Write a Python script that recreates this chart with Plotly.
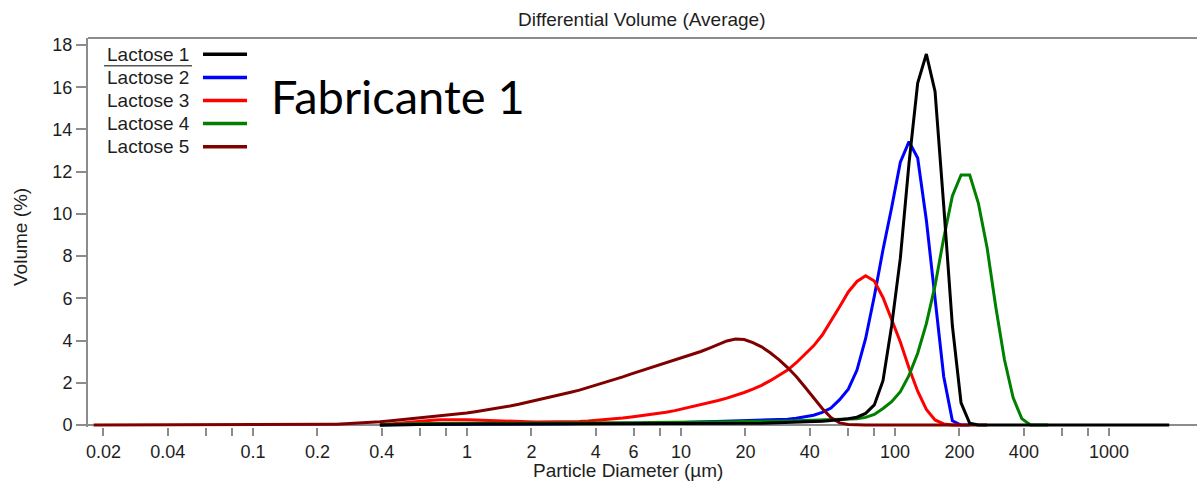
import plotly.graph_objects as go

# Channel mid-point diameters of the size analyser (µm), channel 0 .. 124
diameter_um = [
    0.01801, 0.01977, 0.02170, 0.02383, 0.02616, 0.02872, 0.03153, 0.03461, 0.03800, 0.04171,
    0.04579, 0.05027, 0.05519, 0.06059, 0.06652, 0.07303, 0.08017, 0.08801, 0.09662, 0.1061,
    0.1164, 0.1278, 0.1403, 0.1541, 0.1691, 0.1857, 0.2039, 0.2238, 0.2457, 0.2697,
    0.2961, 0.3250, 0.3568, 0.3917, 0.4301, 0.4721, 0.5183, 0.5690, 0.6247, 0.6858,
    0.7528, 0.8265, 0.9073, 0.9961, 1.0935, 1.2005, 1.3179, 1.4468, 1.5884, 1.7437,
    1.9143, 2.1016, 2.3071, 2.5328, 2.7806, 3.0526, 3.3512, 3.6790, 4.0389, 4.4340,
    4.8677, 5.3433, 5.8660, 6.4398, 7.0698, 7.7613, 8.5205, 9.3540, 10.269, 11.273,
    12.376, 13.587, 14.916, 16.375, 17.977, 19.735, 21.666, 23.785, 26.112, 28.666,
    31.470, 34.548, 37.928, 41.638, 45.711, 50.182, 55.091, 60.480, 66.396, 72.891,
    80.021, 87.849, 96.442, 105.88, 116.23, 127.60, 140.08, 153.79, 168.83, 185.34,
    203.47, 223.38, 245.23, 269.22, 295.55, 324.46, 356.20, 391.04, 429.29, 471.29,
    517.39, 568.0, 623.6, 684.6, 751.5, 825.0, 905.7, 994.3, 1091.6, 1198.4,
    1315.6, 1444.3, 1585.6, 1740.7, 1911.0,
]

# Differential volume (%) per channel; each list starts at its first reported channel
lactose_1_start = 33
lactose_1 = [
    0.0, 0.01, 0.02, 0.03, 0.03, 0.04, 0.04,
    0.04, 0.04, 0.05, 0.05, 0.05, 0.05, 0.05, 0.05, 0.05, 0.05,
    0.05, 0.05, 0.05, 0.05, 0.05, 0.05, 0.05, 0.05, 0.05, 0.05,
    0.05, 0.05, 0.05, 0.05, 0.05, 0.06, 0.06, 0.06, 0.06, 0.06,
    0.06, 0.06, 0.07, 0.07, 0.07, 0.08, 0.08, 0.08, 0.09, 0.10,
    0.11, 0.12, 0.14, 0.16, 0.18, 0.21, 0.25, 0.30, 0.37, 0.55,
    0.95, 2.1, 4.7, 7.9, 12.4, 16.2, 17.57, 15.8, 10.4, 4.7,
    1.05, 0.08, 0.0, 0.0, 0.0, 0.0, 0.0, 0.0, 0.0, 0.0,
    0.0, 0.0, 0.0, 0.0, 0.0, 0.0, 0.0, 0.0, 0.0, 0.0,
    0.0, 0.0, 0.0, 0.0, 0.0,
]

lactose_2_start = 33
lactose_2 = [
    0.0, 0.01, 0.02, 0.02, 0.02, 0.03, 0.03,
    0.03, 0.03, 0.03, 0.04, 0.04, 0.04, 0.04, 0.04, 0.05, 0.05,
    0.05, 0.05, 0.05, 0.06, 0.06, 0.06, 0.07, 0.07, 0.07, 0.08,
    0.08, 0.08, 0.09, 0.09, 0.10, 0.10, 0.10, 0.11, 0.12, 0.14,
    0.16, 0.18, 0.19, 0.20, 0.20, 0.20, 0.21, 0.22, 0.23, 0.25,
    0.27, 0.32, 0.38, 0.46, 0.60, 0.80, 1.2, 1.7, 2.6, 4.1,
    6.1, 8.3, 10.3, 12.45, 13.42, 12.65, 9.7, 6.1, 2.3, 0.2,
    0.0, 0.0,
]

lactose_3_start = 33
lactose_3 = [
    0.0, 0.04, 0.08, 0.13, 0.17, 0.20, 0.23,
    0.25, 0.26, 0.26, 0.25, 0.24, 0.22, 0.20, 0.18, 0.17, 0.16,
    0.15, 0.14, 0.14, 0.14, 0.14, 0.15, 0.17, 0.19, 0.22, 0.25,
    0.29, 0.33, 0.38, 0.43, 0.48, 0.54, 0.60, 0.68, 0.77, 0.86,
    0.96, 1.06, 1.16, 1.27, 1.40, 1.54, 1.70, 1.88, 2.10, 2.33,
    2.60, 2.95, 3.33, 3.75, 4.26, 4.90, 5.60, 6.30, 6.80, 7.07,
    6.82, 6.04, 5.00, 3.93, 2.70, 1.60, 0.74, 0.24, 0.05, 0.0,
    0.0,
]

lactose_4_start = 33
lactose_4 = [
    0.0, 0.02, 0.04, 0.05, 0.06, 0.07, 0.07,
    0.08, 0.08, 0.08, 0.08, 0.08, 0.08, 0.08, 0.08, 0.08, 0.08,
    0.09, 0.09, 0.09, 0.09, 0.09, 0.10, 0.10, 0.10, 0.10, 0.10,
    0.11, 0.11, 0.11, 0.11, 0.12, 0.12, 0.12, 0.12, 0.13, 0.13,
    0.13, 0.14, 0.14, 0.15, 0.15, 0.16, 0.16, 0.17, 0.17, 0.18,
    0.19, 0.20, 0.21, 0.22, 0.23, 0.24, 0.25, 0.27, 0.30, 0.36,
    0.50, 0.78, 1.10, 1.58, 2.35, 3.40, 4.80, 6.60, 8.85, 10.85,
    11.84, 11.84, 10.5, 8.4, 5.6, 3.1, 1.3, 0.3, 0.0, 0.0,
    0.0,
]

lactose_5_start = 0
lactose_5 = [
    0.0, 0.0, 0.0, 0.0, 0.0, 0.0, 0.0, 0.0, 0.0, 0.0,
    0.0, 0.0, 0.0, 0.0, 0.0, 0.0, 0.0, 0.0, 0.0, 0.0,
    0.0, 0.0, 0.0, 0.005, 0.01, 0.015, 0.02, 0.03, 0.04, 0.055,
    0.07, 0.09, 0.12, 0.15, 0.19, 0.23, 0.27, 0.30, 0.34, 0.38,
    0.42, 0.47, 0.52, 0.57, 0.63, 0.69, 0.75, 0.82, 0.90, 0.98,
    1.07, 1.16, 1.26, 1.35, 1.45, 1.55, 1.65, 1.77, 1.90, 2.02,
    2.15, 2.28, 2.42, 2.55, 2.68, 2.82, 2.95, 3.08, 3.22, 3.35,
    3.48, 3.64, 3.80, 3.98, 4.07, 4.05, 3.90, 3.70, 3.42, 3.10,
    2.72, 2.30, 1.80, 1.30, 0.78, 0.35, 0.10, 0.02, 0.0, 0.0,
    0.0, 0.0, 0.0, 0.0, 0.0, 0.0, 0.0, 0.0, 0.0, 0.0,
    0.0, 0.0, 0.0, 0.0,
]

series_names = ["Lactose 1", "Lactose 2", "Lactose 3", "Lactose 4", "Lactose 5"]
series_colors = ["#000000", "#0000FF", "#FF0000", "#008000", "#800000"]
series_values = [lactose_1, lactose_2, lactose_3, lactose_4, lactose_5]
series_starts = [lactose_1_start, lactose_2_start, lactose_3_start, lactose_4_start, lactose_5_start]

x_tick_vals = [0.02, 0.04, 0.06, 0.08, 0.1, 0.2, 0.4, 0.6, 0.8, 1, 2, 4, 6, 8,
               10, 20, 40, 60, 80, 100, 200, 400, 600, 800, 1000]
x_tick_text = ["0.02", "0.04", "", "", "0.1", "0.2", "0.4", "", "", "1", "2", "4", "6", "",
               "10", "20", "40", "", "", "100", "200", "400", "", "", "1000"]
y_tick_vals = [0, 2, 4, 6, 8, 10, 12, 14, 16, 18]

FONT = "Liberation Sans, Arial, sans-serif"
TEXT = "#1e1e1e"
AXIS = "#8c8c8c"

W, H = 1197, 481
M_L, M_R, M_T, M_B = 88, 0, 38, 54


def px_x(px):
    return (px - M_L) / (W - M_L - M_R)


def px_y(py):
    return (H - M_B - py) / (H - M_T - M_B)


fig = go.Figure()

# Drawing order keeps Lactose 1 on top of the baseline
for i in [1, 2, 3, 4, 0]:
    s = series_starts[i]
    vals = series_values[i]
    fig.add_trace(go.Scatter(
        x=diameter_um[s:s + len(vals)], y=vals, mode="lines",
        name=series_names[i], line=dict(color=series_colors[i], width=3),
        showlegend=False,
    ))

annotations = []
shapes = []

# Legend: label followed by its line sample
row_y = [54.3, 77.4, 100.5, 123.6, 146.7]
for name, color, ry in zip(series_names, series_colors, row_y):
    annotations.append(dict(
        text=name, x=px_x(105), y=px_y(ry), xref="paper", yref="paper",
        xanchor="left", yanchor="middle", showarrow=False,
        font=dict(family=FONT, size=19, color=TEXT),
    ))
    shapes.append(dict(
        type="line", xref="paper", yref="paper",
        x0=px_x(203), x1=px_x(247), y0=px_y(ry), y1=px_y(ry),
        line=dict(color=color, width=3.5),
    ))
shapes.append(dict(
    type="line", xref="paper", yref="paper",
    x0=px_x(104), x1=px_x(192), y0=px_y(65.7), y1=px_y(65.7),
    line=dict(color="#555555", width=1.5),
))
# top frame line
shapes.append(dict(
    type="line", xref="paper", yref="paper", x0=0, x1=1, y0=1, y1=1,
    line=dict(color=AXIS, width=2),
))

annotations += [
    dict(text="Differential Volume (Average)", x=px_x(641), y=px_y(19),
         xref="paper", yref="paper", xanchor="center", yanchor="middle",
         showarrow=False, font=dict(family=FONT, size=19, color=TEXT)),
    dict(text="Volume (%)", x=px_x(20), y=px_y(237), textangle=-90,
         xref="paper", yref="paper", xanchor="center", yanchor="middle",
         showarrow=False, font=dict(family=FONT, size=19, color=TEXT)),
    dict(text="Particle Diameter (µm)", x=px_x(628), y=px_y(470),
         xref="paper", yref="paper", xanchor="center", yanchor="middle",
         showarrow=False, font=dict(family=FONT, size=19, color=TEXT)),
    dict(text="Fabricante 1", x=px_x(398), y=px_y(96),
         xref="paper", yref="paper", xanchor="center", yanchor="middle",
         showarrow=False, font=dict(family="Lato, sans-serif", size=47, color="#000000")),
]

fig.update_layout(
    width=W, height=H,
    margin=dict(l=M_L, r=M_R, t=M_T, b=M_B, pad=0),
    paper_bgcolor="white", plot_bgcolor="white",
    showlegend=False,
    annotations=annotations, shapes=shapes,
    xaxis=dict(
        type="log", range=[-1.771, 3.411],
        tickmode="array", tickvals=x_tick_vals, ticktext=x_tick_text,
        ticks="outside", ticklen=8, tickwidth=1.5, tickcolor=AXIS,
        showline=False, showgrid=False, zeroline=False,
        tickfont=dict(family=FONT, size=18, color=TEXT),
    ),
    yaxis=dict(
        range=[-0.095, 18.33],
        tickmode="array", tickvals=y_tick_vals,
        ticks="outside", ticklen=10, tickwidth=1.5, tickcolor=AXIS,
        showline=True, linecolor=AXIS, linewidth=2,
        showgrid=False, zeroline=True, zerolinecolor=AXIS, zerolinewidth=2,
        tickfont=dict(family=FONT, size=18, color=TEXT),
    ),
)

fig.write_html("out.html")
